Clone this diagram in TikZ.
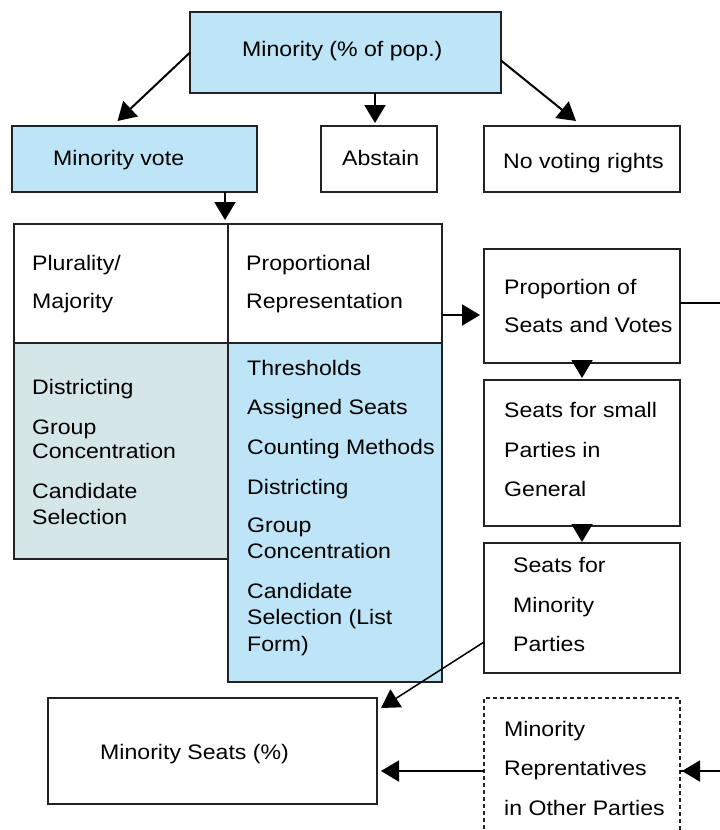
\documentclass[tikz,border=0pt]{standalone}
\usepackage{fontspec}
\setmainfont{Liberation Sans}[FakeStretch=1.1]
\usetikzlibrary{arrows.meta}
\definecolor{lblue}{HTML}{BDE4F7}
\definecolor{lgray}{HTML}{D5E6E9}
\definecolor{edge}{HTML}{222222}
\begin{document}
\begin{tikzpicture}[x=1pt,y=-1pt,
  box/.style={draw=edge, line width=1.2pt, anchor=north west, inner sep=0pt, outer sep=0pt},
  dbox/.style={box, dash pattern=on 4pt off 3pt},
  txt/.style={anchor=base west, inner sep=0pt, font=\fontsize{21}{24}\selectfont},
  arr/.style={line width=2pt, -{Triangle[length=18pt,width=21pt]}},
  thinarr/.style={line width=1.5pt, -{Triangle[length=18pt,width=21pt]}}]
\useasboundingbox (0,0) rectangle (720,830);
\clip (0,0) rectangle (720,830);
% boxes
\node[box, fill=lblue, minimum width=311pt, minimum height=81pt] (top) at (190,12) {};
\node[box, fill=lblue, minimum width=245pt, minimum height=66pt] (mv) at (12,126) {};
\node[box, minimum width=116pt, minimum height=66pt] (ab) at (321,126) {};
\node[box, minimum width=196pt, minimum height=66pt] (nv) at (484,126) {};
\node[box, minimum width=214pt, minimum height=119pt] (pm) at (14,224) {};
\node[box, minimum width=214pt, minimum height=119pt] (pr) at (228,224) {};
\node[box, fill=lgray, minimum width=214pt, minimum height=216pt] (lc) at (14,343) {};
\node[box, fill=lblue, minimum width=214pt, minimum height=339pt] (rc) at (228,343) {};
\node[box, minimum width=196pt, minimum height=114pt] (ps) at (484,249) {};
\node[box, minimum width=196pt, minimum height=146pt] (ss) at (484,380) {};
\node[box, minimum width=196pt, minimum height=130pt] (sm) at (484,543) {};
\node[box, minimum width=329pt, minimum height=106pt] (ms) at (48,698) {};
\node[dbox, minimum width=196pt, minimum height=146pt] (rep) at (484,698) {};
\coordinate (pin) at ([xshift=-4pt,yshift=-9pt]ps.west);
% texts
\node[txt] (t1) at (242,56) {Minority (\% of pop.)};
\node[txt] (t2) at (53,165) {Minority vote};
\node[txt] (t3) at (342,165) {Abstain};
\node[txt] (t4) at (503,168) {No voting rights};
\node[txt] (t5) at (32,270) {Plurality/};
\node[txt] (t6) at (32,308) {Majority};
\node[txt] (t7) at (246,270) {Proportional};
\node[txt] (t8) at (246,308) {Representation};
\node[txt] (t9) at (504,294) {Proportion of};
\node[txt] (t10) at (504,332) {Seats and Votes};
\node[txt] (l1) at (32,394) {Districting};
\node[txt] (l2) at (32,434) {Group};
\node[txt] (l3) at (32,458) {Concentration};
\node[txt] (l4) at (32,498) {Candidate};
\node[txt] (l5) at (32,524) {Selection};
\node[txt] (r1) at (247,375) {Thresholds};
\node[txt] (r2) at (247,414) {Assigned Seats};
\node[txt] (r3) at (247,454) {Counting Methods};
\node[txt] (r4) at (247,494) {Districting};
\node[txt] (r5) at (247,532) {Group};
\node[txt] (r6) at (247,558) {Concentration};
\node[txt] (r7) at (247,598) {Candidate};
\node[txt] (r8) at (247,624) {Selection (List};
\node[txt] (r9) at (247,651) {Form)};
\node[txt] (s1) at (504,417) {Seats for small};
\node[txt] (s2) at (504,457) {Parties in};
\node[txt] (s3) at (504,496) {General};
\node[txt] (m1) at (513,572) {Seats for};
\node[txt] (m2) at (513,612) {Minority};
\node[txt] (m3) at (513,651) {Parties};
\node[txt] (u1) at (100,759) {Minority Seats (\%)};
\node[txt] (o1) at (504,736) {Minority};
\node[txt] (o2) at (504,775) {Reprentatives};
\node[txt] (o3) at (504,815) {in Other Parties};
% connectors
\draw[arr] (top.west) -- ([xshift=-17pt,yshift=5pt]mv.north);
\draw[arr] ([xshift=-4pt]ab.north |- top.south) -- ([xshift=-4pt,yshift=3pt]ab.north);
\draw[arr] ([yshift=-8pt]top.east) -- ([xshift=-6pt,yshift=5pt]nv.north);
\draw[arr] ([xshift=-3pt]pr.north west |- mv.south) -- ([xshift=-3pt,yshift=4pt]pr.north west);
\draw[arr] (pr.east |- pin) -- (pin);
\draw[line width=2pt] ([yshift=3pt]ps.east) -- ++(60,0) |- (rep.east);
\draw[arr] ([xshift=70pt]rep.east) -- ([xshift=2pt]rep.east);
\draw[arr] (ps.south) -- ([yshift=2pt]ss.north);
\draw[arr] (ss.south) -- ([yshift=1pt]sm.north);
\draw[thinarr] ([yshift=-34pt]sm.west) -- ([xshift=4pt,yshift=-10pt]ms.north east);
\draw[arr] (rep.west) -- ([xshift=4pt]ms.east |- rep.west);
\end{tikzpicture}
\end{document}
